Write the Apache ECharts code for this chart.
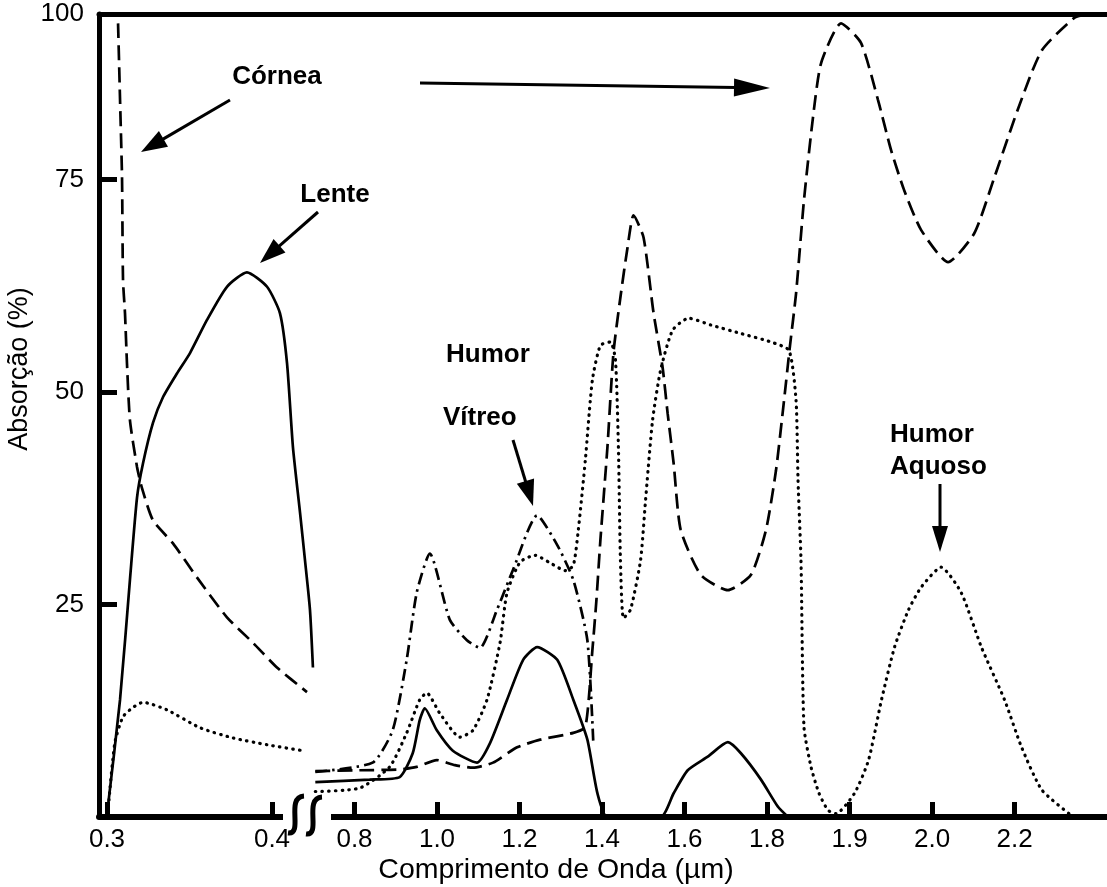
<!DOCTYPE html>
<html><head><meta charset="utf-8">
<script src="https://cdn.jsdelivr.net/npm/echarts@6/dist/echarts.min.js"></script>
<style>html,body{margin:0;padding:0;background:#fff}#c{width:1107px;height:887px}</style>
</head><body><div id="c"></div>
<script>
// Axis ticks (broken, non-uniform wavelength axis as drawn in the figure)
const TICK_WL = [0.3, 0.4, 0.8, 1.0, 1.2, 1.4, 1.6, 1.8, 1.9, 2.0, 2.2];
const TICK_POS = [0, 2, 3, 4, 5, 6, 7, 8, 9, 10, 11];
const TICK_LABELS = ['0.3', '0.4', '0.8', '1.0', '1.2', '1.4', '1.6', '1.8', '1.9', '2.0', '2.2'];
const Y_TICKS = [25, 50, 75];
const Y_MAX = 94.5;
const Y_TOP_LABEL = '100';
const X_MIN = -0.097, X_MAX = 12.121;

// [wavelength µm, absorption %]
const corneaLeft = [[0.3067,93.4],[0.3079,84.4],[0.3091,75.3],[0.3097,63.2],[0.3109,59.3],[0.3121,53.4],[0.3139,46.7],[0.3182,41.2],[0.3212,38.7],[0.3279,34.9],[0.34,32.2],[0.3545,28.2],[0.3727,23.5],[0.3885,20.5],[0.403,17.6],[0.4212,14.7]];
const corneaRight = [[0.705,5.4],[0.8122,5.5],[0.9095,5.6],[0.9508,5.9],[0.9995,6.7],[1.0433,6.1],[1.0871,5.8],[1.1358,6.4],[1.1942,8.2],[1.2501,9.1],[1.3304,9.9],[1.3596,10.6],[1.3766,19.6],[1.3864,25.5],[1.3961,32.6],[1.4131,43.5],[1.4277,54.6],[1.4447,61.2],[1.4618,67],[1.4764,70.8],[1.5007,68.2],[1.525,59.3],[1.5469,52.9],[1.5591,47.5],[1.5737,41.6],[1.5907,33.8],[1.6394,28.5],[1.7051,26.7],[1.7611,28.5],[1.7976,33.8],[1.8109,40.8],[1.8206,49],[1.8279,55.5],[1.8352,61.6],[1.8448,72.6],[1.8558,82.4],[1.8655,88.7],[1.8897,93.4],[1.9139,91.1],[1.9345,84.4],[1.9503,78.5],[1.9661,73.8],[1.9867,69.1],[2.039,65.3],[2.1025,68.7],[2.1513,75.3],[2.2098,83.5],[2.266,90.2],[2.3465,94.1],[2.376,94.4]];
const lenteLeft = [[0.3,0.3],[0.3079,13.8],[0.3139,27.9],[0.3182,37.6],[0.3218,41.6],[0.3279,46.4],[0.3339,49.4],[0.3424,52.2],[0.3503,54.6],[0.3606,58.5],[0.3727,62.4],[0.3848,64.1],[0.397,62.4],[0.4048,59.3],[0.4091,53.4],[0.4127,43.5],[0.417,35.8],[0.42,30.2],[0.423,24.4],[0.4248,17.6]];
const lenteRight = [[0.705,4.1],[0.8365,4.4],[0.9095,4.7],[0.9411,7.5],[0.9581,11.4],[0.9703,12.8],[0.9995,10.2],[1.0384,7.8],[1.0968,6.4],[1.1285,8.7],[1.1698,13.8],[1.2088,18.5],[1.2428,20],[1.2915,18.5],[1.3304,13.8],[1.3645,9.1],[1.3888,2.8],[1.4131,0],[1.5421,0],[1.5737,2.8],[1.6078,5.5],[1.6564,7.1],[1.7051,8.8],[1.7367,7.5],[1.7854,4.4],[1.8133,1.2],[1.8255,0]];
const vitreoRight = [[0.705,5.3],[0.8438,6.4],[0.8925,10.2],[0.9265,18.5],[0.9508,26.4],[0.9825,31],[1.0311,23.2],[1.0725,20.8],[1.1041,19.9],[1.1455,24.4],[1.1844,29.1],[1.2428,35.5],[1.2915,32],[1.3304,27.9],[1.3645,20.8],[1.3791,8.5]];
const aquosoLeft = [[0.3012,2.0],[0.3048,8.8],[0.3097,11.8],[0.3158,12.9],[0.3218,13.5],[0.3364,12.6],[0.3564,10.5],[0.3764,9.3],[0.397,8.5],[0.4188,7.8]];
const aquosoRight = [[0.705,3.0],[0.8122,3.4],[0.8852,5.9],[0.9265,9.9],[0.9581,13.8],[0.9752,14.6],[1.0068,12.2],[1.0555,9.4],[1.0871,10.2],[1.1212,13.8],[1.1528,20.5],[1.1698,26.4],[1.2015,30],[1.238,30.8],[1.2744,29.9],[1.3109,29],[1.3304,29.6],[1.3426,33.8],[1.3596,42],[1.3766,51.4],[1.3961,55.5],[1.4204,55.9],[1.4326,53.8],[1.4399,43.2],[1.4447,30.2],[1.452,23.4],[1.4691,24.4],[1.4934,30.2],[1.5056,37.3],[1.5226,46.7],[1.5421,52.6],[1.5713,57.3],[1.6102,58.7],[1.6637,57.9],[1.7367,56.9],[1.8048,55.9],[1.8267,54.9],[1.8352,49],[1.8376,39.6],[1.8412,30.2],[1.8448,10.6],[1.8533,5.9],[1.863,2.8],[1.8739,0.8],[1.8836,0.4],[1.9061,2.8],[1.9231,6.7],[1.9388,13.8],[1.9546,20],[1.9716,24.4],[1.9873,27.1],[2.022,29.4],[2.0708,26.4],[2.1196,20],[2.1757,13.8],[2.2172,8.2],[2.266,3.2],[2.3319,0.4]];

function wlToPos(w) {
  if (w < 0.6) {
    return TICK_POS[0] + (w - TICK_WL[0]) / (TICK_WL[1] - TICK_WL[0]) * (TICK_POS[1] - TICK_POS[0]);
  }
  let i = 2;
  while (i < TICK_WL.length - 2 && w > TICK_WL[i + 1]) i++;
  return TICK_POS[i] + (w - TICK_WL[i]) / (TICK_WL[i + 1] - TICK_WL[i]) * (TICK_POS[i + 1] - TICK_POS[i]);
}
function build(left, right) {
  const out = [];
  if (left) left.forEach(p => out.push([wlToPos(p[0]), p[1]]));
  if (left && right) out.push([2.5, '-']);
  right.forEach(p => out.push([wlToPos(p[0]), p[1]]));
  return out;
}
function arrow(x1, y1, x2, y2, hl, hw, lw) {
  const dx = x2 - x1, dy = y2 - y1, L = Math.hypot(dx, dy), ux = dx / L, uy = dy / L;
  const bx = x2 - ux * hl, by = y2 - uy * hl;
  return [
    { type: 'line', z: 100, shape: { x1: x1, y1: y1, x2: bx + ux * 2, y2: by + uy * 2 }, style: { stroke: '#000', lineWidth: lw } },
    { type: 'polygon', z: 100, shape: { points: [[x2, y2], [bx - uy * hw / 2, by + ux * hw / 2], [bx + uy * hw / 2, by - ux * hw / 2]] }, style: { fill: '#000' } }
  ];
}
const FONT = '"Liberation Sans", Arial, sans-serif';
function txt(t, x, y, size, align, rot, weight) {
  return { type: 'text', z: 100, x: x, y: y, rotation: rot || 0,
    style: { text: t, x: 0, y: 0, fill: '#000', fontSize: size, fontFamily: FONT, fontWeight: weight || 'normal',
      align: align || 'center', verticalAlign: 'middle', textAlign: align || 'center', textVerticalAlign: 'middle' } };
}

const chart = echarts.init(document.getElementById('c'), null, { renderer: 'canvas' });
const lineBase = { type: 'line', showSymbol: false, smooth: 0.2, clip: true, connectNulls: false };
const option = {
  animation: false,
  backgroundColor: '#fff',
  grid: { left: 99, right: 0, top: 14, bottom: 70 },
  xAxis: [{
    type: 'value', min: X_MIN, max: X_MAX, position: 'bottom',
    splitLine: { show: false },
    axisLine: { show: true, onZero: false, lineStyle: { color: '#000', width: 6 } },
    axisTick: { show: true, inside: true, length: 15, lineStyle: { color: '#000', width: 5 }, customValues: TICK_POS },
    axisLabel: { show: true, customValues: TICK_POS, margin: 10, color: '#000', fontSize: 26, fontFamily: FONT,
      formatter: function (v) { const i = TICK_POS.findIndex(p => Math.abs(p - v) < 1e-6); return i >= 0 ? TICK_LABELS[i] : ''; } }
  }, {
    type: 'value', min: X_MIN, max: X_MAX, position: 'top',
    splitLine: { show: false }, axisTick: { show: false }, axisLabel: { show: false },
    axisLine: { show: true, onZero: false, lineStyle: { color: '#000', width: 5 } }
  }],
  yAxis: {
    type: 'value', min: 0, max: Y_MAX,
    splitLine: { show: false },
    axisLine: { show: true, onZero: false, lineStyle: { color: '#000', width: 5 } },
    axisTick: { show: true, inside: true, length: 18, lineStyle: { color: '#000', width: 5 }, customValues: Y_TICKS },
    axisLabel: { show: true, customValues: Y_TICKS.concat([Y_MAX]), margin: 15, color: '#000', fontSize: 26, fontFamily: FONT,
      formatter: function (v) { return v >= Y_MAX - 1e-6 ? Y_TOP_LABEL : String(v); } }
  },
  series: [
    Object.assign({}, lineBase, { name: 'Córnea', data: build(corneaLeft, corneaRight),
      lineStyle: { color: '#000', width: 2.7, type: [15, 7] } }),
    Object.assign({}, lineBase, { name: 'Lente', data: build(lenteLeft, lenteRight),
      lineStyle: { color: '#000', width: 2.7, type: 'solid' } }),
    Object.assign({}, lineBase, { name: 'Humor Vítreo', data: build(null, vitreoRight),
      lineStyle: { color: '#000', width: 2.7, type: [12, 5, 2.5, 5] } }),
    Object.assign({}, lineBase, { name: 'Humor Aquoso', data: build(aquosoLeft, aquosoRight),
      lineStyle: { color: '#000', width: 3.2, type: [0.5, 6.2], cap: 'round' } })
  ],
  graphic: {
    elements: [].concat(
      [{ type: 'rect', z: 100, shape: { x: 283, y: 806, width: 48, height: 20 }, style: { fill: '#fff' } },
       { type: 'bezierCurve', z: 101, shape: { x1: 288, y1: 833, cpx1: 304, cpy1: 835, cpx2: 285, cpy2: 797, x2: 304, y2: 796 }, style: { stroke: '#000', lineWidth: 5, fill: null } },
       { type: 'bezierCurve', z: 101, shape: { x1: 306, y1: 834, cpx1: 322, cpy1: 836, cpx2: 303, cpy2: 798, x2: 322, y2: 797 }, style: { stroke: '#000', lineWidth: 5, fill: null } }],
      arrow(230, 100, 141, 152, 26, 18, 3),
      arrow(318, 212, 260, 263, 26, 18, 3),
      arrow(420, 83, 770, 88, 36, 18, 3),
      arrow(513, 440, 533, 506, 26, 18, 3),
      arrow(940, 484, 940, 552, 26, 16, 3),
      [txt('Córnea', 277, 77, 26, 'center', 0, 'bold'),
       txt('Lente', 335, 195, 26, 'center', 0, 'bold'),
       txt('Humor', 446, 355, 26, 'left', 0, 'bold'),
       txt('Vítreo', 443, 418, 26, 'left', 0, 'bold'),
       txt('Humor', 890, 435, 26, 'left', 0, 'bold'),
       txt('Aquoso', 890, 467, 26, 'left', 0, 'bold'),
       txt('Comprimento de Onda (µm)', 556, 870, 28.5),
       txt('Absorção (%)', 20, 369, 27, 'center', Math.PI / 2)]
    )
  }
};
chart.setOption(option);
</script>
</body></html>
